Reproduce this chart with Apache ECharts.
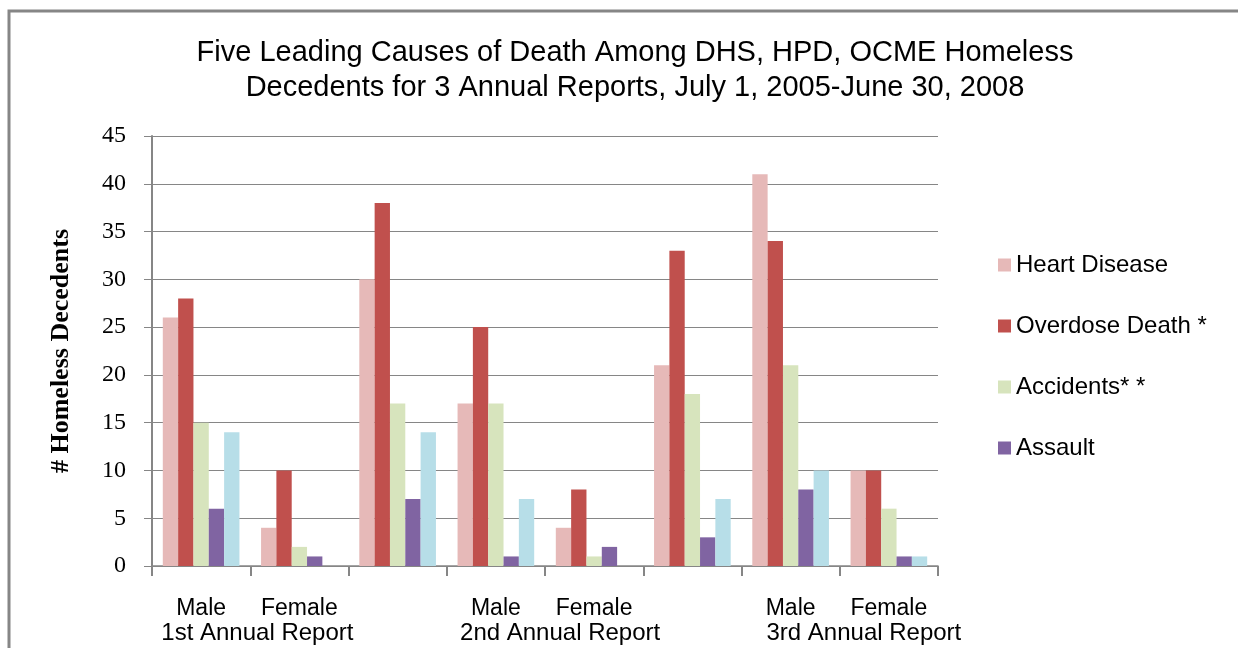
<!DOCTYPE html>
<html>
<head>
<meta charset="utf-8">
<script src="https://cdn.jsdelivr.net/npm/echarts@6/dist/echarts.min.js"></script>
<style>
  html, body { margin: 0; padding: 0; background: #fff; }
  #chart { width: 1238px; height: 648px; }
</style>
</head>
<body>
<div id="chart"></div>
<script>
// 类目（空白的类目保留位置）
const categories = ['Male', 'Female', '', 'Male', 'Female', '', 'Male', 'Female']
const reportLabels = ['1st Annual Report', '2nd Annual Report', '3rd Annual Report']

// 各死因数据
const heartDisease = [26, 4, 30, 17, 4, 21, 41, 10]
const overdoseDeath = [28, 10, 38, 25, 8, 33, 34, 10]
const accidents = [15, 2, 17, 17, 1, 18, 21, 6]
const assault = [6, 1, 7, 1, 2, 3, 8, 1]
const fifthCause = [14, 0, 14, 7, 0, 7, 10, 1]

const seriesNames = ['Heart Disease', 'Overdose Death *', 'Accidents* *', 'Assault', 'Other']
const yTicks = { min: 0, max: 45, step: 5 }

;(function () {
    let myChart = echarts.init(document.getElementById('chart'))
    let sans = 'Liberation Sans'
    let serif = 'Liberation Serif'
    let gray = '#868686'

    // 报告名称放在 Female 的第二行，向左偏移
    let femaleIndex = [1, 4, 7]
    let shift = [84, 68, 50]
    let rich = {}
    reportLabels.forEach(function (t, i) {
        rich['r' + i] = {
            fontFamily: sans,
            fontSize: 24,
            color: '#000',
            lineHeight: 25,
            padding: [0, shift[i], 0, 0]
        }
    })

    let colors = ['#e6b9b8', '#c0504d', '#d7e4bd', '#8064a2', '#b7dee8']
    let allData = [heartDisease, overdoseDeath, accidents, assault, fifthCause]

    let option = {
        animation: false,
        backgroundColor: '#fff',
        title: {
            text: 'Five Leading Causes of Death Among DHS, HPD, OCME Homeless\nDecedents for 3 Annual Reports, July 1, 2005-June 30, 2008',
            left: 630,
            top: 30,
            textAlign: 'center',
            textStyle: {
                fontFamily: sans,
                fontSize: 29,
                fontWeight: 'normal',
                color: '#000',
                lineHeight: 35
            }
        },
        // 外边框
        graphic: [{
            type: 'rect',
            silent: true,
            shape: { x: 9, y: 11, width: 1260, height: 700 },
            style: { fill: 'none', stroke: gray, lineWidth: 3 }
        }],
        legend: {
            orient: 'vertical',
            left: 993,
            top: 248,
            data: seriesNames.slice(0, 4),
            itemWidth: 13,
            itemHeight: 13,
            itemGap: 37,
            icon: 'rect',
            textStyle: {
                fontFamily: sans,
                fontSize: 24,
                color: '#000'
            }
        },
        grid: {
            left: 152,
            right: 300,
            top: 136,
            bottom: 82
        },
        xAxis: {
            type: 'category',
            data: categories,
            axisLine: { lineStyle: { color: gray, width: 1.5 } },
            axisTick: {
                show: true,
                interval: 0,
                length: 10,
                lineStyle: { color: gray, width: 2 }
            },
            axisLabel: {
                interval: 0,
                margin: 30,
                fontFamily: sans,
                fontSize: 23,
                color: '#000',
                lineHeight: 25,
                formatter: function (value, idx) {
                    let k = femaleIndex.indexOf(idx)
                    if (k < 0) return value
                    return value + '\n{r' + k + '|' + reportLabels[k] + '}'
                },
                rich: rich
            }
        },
        yAxis: {
            type: 'value',
            min: yTicks.min,
            max: yTicks.max,
            interval: yTicks.step,
            name: '# Homeless Decedents',
            nameLocation: 'middle',
            nameGap: 78,
            nameTextStyle: {
                fontFamily: serif,
                fontSize: 26,
                fontWeight: 'bold',
                color: '#000'
            },
            axisLine: { show: true, lineStyle: { color: gray, width: 2 } },
            axisTick: { show: true, length: 8, lineStyle: { color: gray } },
            axisLabel: {
                margin: 26,
                fontFamily: serif,
                fontSize: 24,
                color: '#000'
            },
            splitLine: { lineStyle: { color: gray, width: 1 } }
        },
        series: allData.map(function (d, i) {
            return {
                name: seriesNames[i],
                type: 'bar',
                data: d,
                barGap: '0%',
                barCategoryGap: '22%',
                itemStyle: { color: colors[i] }
            }
        })
    }
    myChart.setOption(option)
})()
</script>
</body>
</html>
